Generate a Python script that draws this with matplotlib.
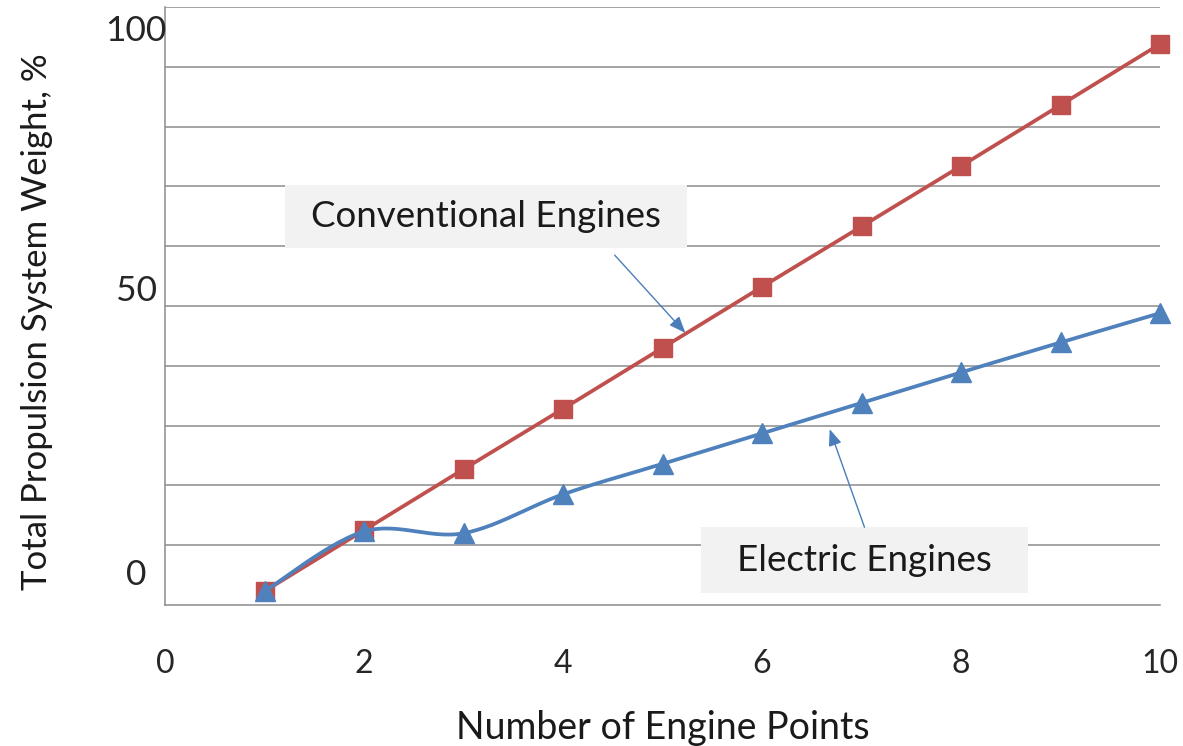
import numpy as np
import matplotlib
matplotlib.use("Agg")
import matplotlib.pyplot as plt
from matplotlib.patches import Rectangle

plt.rcParams['font.family'] = ['Lato', 'DejaVu Sans']

# Data
engine_points = [1, 2, 3, 4, 5, 6, 7, 8, 9, 10]
conventional = [2.3, 12.5, 22.7, 32.8, 43.0, 53.2, 63.3, 73.4, 83.6, 93.8]
electric = [2.3, 12.3, 12.0, 18.5, 23.6, 28.7, 33.8, 38.9, 43.9, 48.8]

x_ticks = [0, 2, 4, 6, 8, 10]
y_label_values = [96.0, 52.5, 5.0]
y_label_texts = ["100", "50", "0"]

RED = "#c0504d"
BLUE = "#4f81bd"
ARROW = "#4a7ebb"
GRID = "#8c8c8c"
TEXT = "#1a1a1a"


def smooth(xs, ys, n=30):
    """Catmull-Rom style Bezier smoothing through the given points."""
    p = np.column_stack([xs, ys]).astype(float)
    ext = np.vstack([p[0], p, p[-1]])
    out = []
    t = np.linspace(0, 1, n)[:, None]
    for i in range(len(p) - 1):
        p0, p1, p2, p3 = ext[i], ext[i + 1], ext[i + 2], ext[i + 3]
        c1 = p1 + (p2 - p0) / 6.0
        c2 = p2 - (p3 - p1) / 6.0
        seg = ((1 - t) ** 3) * p1 + 3 * ((1 - t) ** 2) * t * c1 \
            + 3 * (1 - t) * t ** 2 * c2 + t ** 3 * p2
        out.append(seg if i == 0 else seg[1:])
    s = np.vstack(out)
    return s[:, 0], s[:, 1]


fig = plt.figure(figsize=(11.83, 7.46), dpi=100)
ax = fig.add_axes([165 / 1183, 141 / 746, 995 / 1183, 598 / 746])
ax.set_xlim(0, 10)
ax.set_ylim(0, 100)

# Horizontal gridlines every 10 %
for gy in range(10, 101, 10):
    ax.axhline(gy, color=GRID, lw=1.1, zorder=1)

for side in ("top", "right"):
    ax.spines[side].set_visible(False)
for side in ("left", "bottom"):
    ax.spines[side].set_color(GRID)
    ax.spines[side].set_linewidth(1.1)

ax.set_xticks(x_ticks)
ax.set_xticklabels([str(v) for v in x_ticks], fontsize=23, color="#262626")
ax.tick_params(axis="x", length=0, pad=32)
ax.set_yticks([])

for v, t in zip(y_label_values, y_label_texts):
    ax.text(-0.29, v, t, ha="center", va="center", fontsize=25.5,
            color="#262626", transform=ax.transData, clip_on=False)

ax.set_xlabel("Number of Engine Points", fontsize=27, color=TEXT, labelpad=22)
ax.set_ylabel("Total Propulsion System Weight, %", fontsize=25, color=TEXT)
ax.yaxis.set_label_coords(-0.1126, 0.473)

# Series
ax.plot(engine_points, conventional, color=RED, lw=2.7, zorder=3)
ax.plot(engine_points, conventional, ls="none", marker="s", markersize=13,
        color=RED, zorder=4, clip_on=False)

sx, sy = smooth(engine_points, electric)
ax.plot(sx, sy, color=BLUE, lw=2.7, zorder=5)
ax.plot(engine_points, electric, ls="none", marker="^", markersize=14,
        color=BLUE, zorder=6, clip_on=False)

# Callout boxes
ax.add_patch(Rectangle((1.206, 59.7), 4.04, 10.5, facecolor="#f2f2f2",
                       edgecolor="none", zorder=2))
ax.text(3.226, 64.9, "Conventional Engines", ha="center", va="center",
        fontsize=26.5, color=TEXT, zorder=7)
ax.add_patch(Rectangle((5.39, 2.0), 3.28, 11.0, facecolor="#f2f2f2",
                       edgecolor="none", zorder=2))
ax.text(7.03, 7.5, "Electric Engines", ha="center", va="center",
        fontsize=26.5, color=TEXT, zorder=7)

arrow_style = dict(arrowstyle="-|>,head_length=1.0,head_width=0.4",
                   color=ARROW, lw=1.0, shrinkA=0, shrinkB=0)
ax.annotate("", xy=(5.23, 45.5), xytext=(4.52, 58.5), arrowprops=arrow_style,
            zorder=7)
ax.annotate("", xy=(6.68, 29.4), xytext=(7.03, 13.0), arrowprops=arrow_style,
            zorder=7)

fig.savefig("out.png", dpi=100, facecolor="white")
